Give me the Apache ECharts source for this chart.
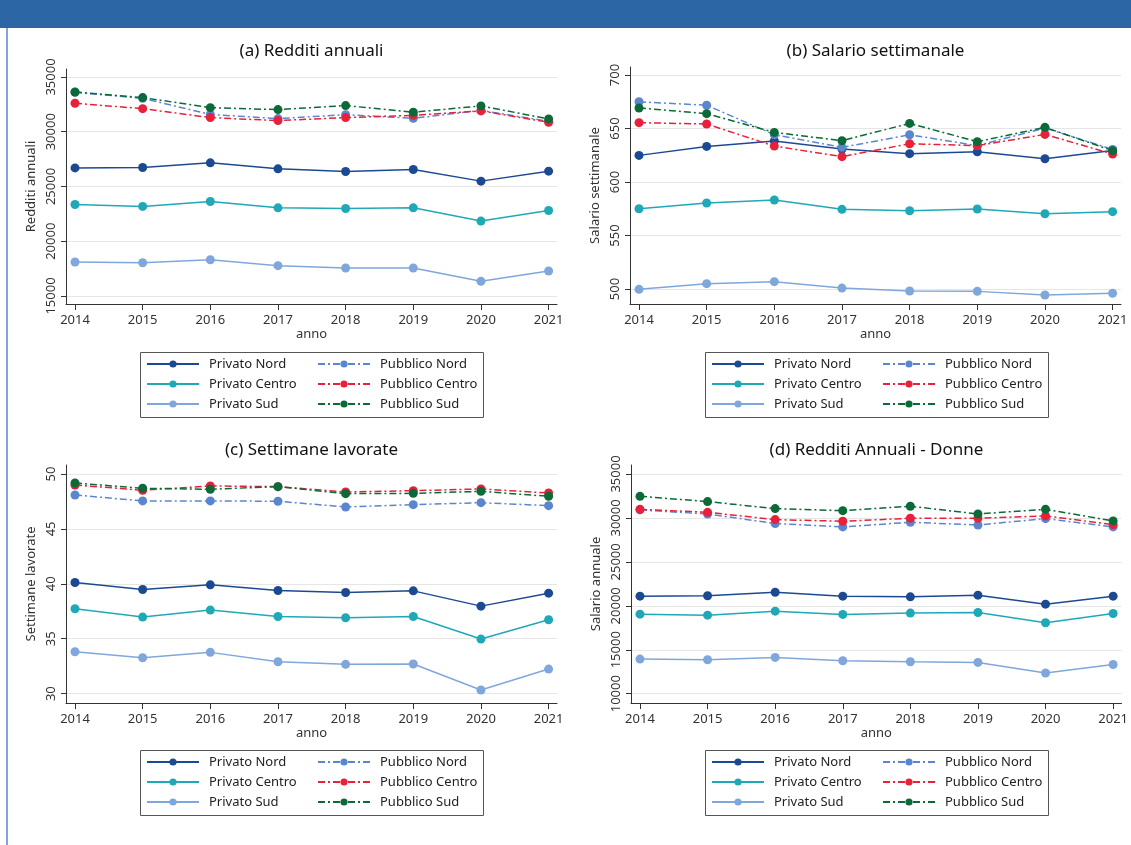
<!DOCTYPE html>
<html>
<head>
<meta charset="utf-8">
<script src="https://cdn.jsdelivr.net/npm/echarts@6/dist/echarts.min.js"></script>
<style>
  html, body { margin: 0; padding: 0; background: #ffffff; }
  #chart { width: 1131px; height: 845px; }
</style>
</head>
<body>
<div id="chart"></div>
<script>
// Years on the horizontal axis of every panel
const years = [2014, 2015, 2016, 2017, 2018, 2019, 2020, 2021];

// Series names (legend order)
const seriesNames = ['Privato Nord', 'Privato Centro', 'Privato Sud', 'Pubblico Nord', 'Pubblico Centro', 'Pubblico Sud'];

// (a) Redditi annuali
const redditiPrivatoNord    = [26700, 26730, 27160, 26610, 26370, 26550, 25490, 26400];
const redditiPrivatoCentro  = [23360, 23180, 23630, 23050, 22990, 23050, 21840, 22810];
const redditiPrivatoSud     = [18100, 18040, 18310, 17770, 17560, 17560, 16340, 17280];
const redditiPubblicoNord   = [33600, 33050, 31580, 31200, 31560, 31230, 31950, 30950];
const redditiPubblicoCentro = [32600, 32110, 31290, 31020, 31290, 31500, 31900, 30870];
const redditiPubblicoSud    = [33630, 33120, 32200, 32020, 32390, 31780, 32360, 31170];

// (b) Salario settimanale
const salarioPrivatoNord    = [624.9, 633.3, 638.3, 630.8, 626.5, 628.3, 621.8, 629.5];
const salarioPrivatoCentro  = [575.0, 580.4, 583.2, 574.5, 573.2, 574.8, 570.4, 572.3];
const salarioPrivatoSud     = [499.7, 505.0, 506.9, 500.9, 498.1, 497.8, 494.4, 496.0];
const salarioPubblicoNord   = [675.0, 671.8, 644.2, 632.4, 644.2, 634.0, 650.5, 630.5];
const salarioPubblicoCentro = [655.5, 654.2, 633.6, 623.7, 635.8, 634.0, 644.5, 626.2];
const salarioPubblicoSud    = [669.2, 663.9, 646.4, 638.6, 654.8, 637.7, 651.1, 629.3];

// (c) Settimane lavorate
const settimanePrivatoNord    = [40.12, 39.48, 39.91, 39.39, 39.21, 39.36, 37.97, 39.15];
const settimanePrivatoCentro  = [37.73, 36.97, 37.61, 37.03, 36.91, 37.03, 34.97, 36.73];
const settimanePrivatoSud     = [33.82, 33.27, 33.76, 32.91, 32.67, 32.70, 30.33, 32.24];
const settimanePubblicoNord   = [48.09, 47.55, 47.55, 47.52, 47.00, 47.21, 47.39, 47.12];
const settimanePubblicoCentro = [49.00, 48.52, 48.91, 48.85, 48.36, 48.48, 48.64, 48.27];
const settimanePubblicoSud    = [49.18, 48.70, 48.61, 48.85, 48.21, 48.24, 48.42, 47.97];

// (d) Redditi annuali - Donne
const donnePrivatoNord    = [21100, 21140, 21550, 21100, 21020, 21210, 20190, 21100];
const donnePrivatoCentro  = [19050, 18940, 19390, 19020, 19170, 19240, 18070, 19130];
const donnePrivatoSud     = [13940, 13860, 14130, 13750, 13640, 13560, 12350, 13330];
const donnePubblicoNord   = [30910, 30450, 29360, 28980, 29510, 29200, 29920, 28980];
const donnePubblicoCentro = [30980, 30640, 29810, 29620, 29960, 29960, 30230, 29240];
const donnePubblicoSud    = [32460, 31860, 31060, 30830, 31330, 30450, 30980, 29660];

// Y tick values per panel
const ticksRedditi   = [15000, 20000, 25000, 30000, 35000];
const ticksSalario   = [500, 550, 600, 650, 700];
const ticksSettimane = [30, 35, 40, 45, 50];
const ticksDonne     = [10000, 15000, 20000, 25000, 30000, 35000];

// Panel titles and y-axis titles
const panelTitles = ['(a) Redditi annuali', '(b) Salario settimanale', '(c) Settimane lavorate', '(d) Redditi Annuali - Donne'];
const yTitles = ['Redditi annuali', 'Salario settimanale', 'Settimane lavorate', 'Salario annuale'];
const xTitle = 'anno';

const panelData = [
  [redditiPrivatoNord, redditiPrivatoCentro, redditiPrivatoSud, redditiPubblicoNord, redditiPubblicoCentro, redditiPubblicoSud],
  [salarioPrivatoNord, salarioPrivatoCentro, salarioPrivatoSud, salarioPubblicoNord, salarioPubblicoCentro, salarioPubblicoSud],
  [settimanePrivatoNord, settimanePrivatoCentro, settimanePrivatoSud, settimanePubblicoNord, settimanePubblicoCentro, settimanePubblicoSud],
  [donnePrivatoNord, donnePrivatoCentro, donnePrivatoSud, donnePubblicoNord, donnePubblicoCentro, donnePubblicoSud]
];
const panelTicks = [ticksRedditi, ticksSalario, ticksSettimane, ticksDonne];

// Layout of the four plot regions (pixels) and the value range each spans
const panels = [
  { left: 66,  top: 69,  width: 491, height: 235, titleTop: 43,  ymin: 14269, ymax: 35730 },
  { left: 630, top: 67,  width: 491, height: 237, titleTop: 43,  ymin: 486,   ymax: 707.5 },
  { left: 66,  top: 465, width: 491, height: 238, titleTop: 442, ymin: 29.15, ymax: 50.82 },
  { left: 631, top: 465, width: 491, height: 238, titleTop: 442, ymin: 8943,  ymax: 36023 }
];
const xMin = 2013.867, xMax = 2021.124;

const colors = ['#1c4a92', '#1fa8b8', '#7fa7dc', '#5a86cf', '#e8203a', '#0b6a37'];
const dashDot = [7, 3, 2, 3];
const lineTypes = ['solid', 'solid', 'solid', dashDot, dashDot, dashDot];

const FONT = 'Noto Sans';
const axisColor = '#333333';

const grids = [], xAxes = [], yAxes = [], titles = [], series = [], legends = [], graphics = [];

panels.forEach((p, i) => {
  grids.push({ left: p.left, top: p.top, width: p.width, height: p.height, containLabel: false });
  titles.push({
    text: panelTitles[i],
    left: p.left + p.width / 2,
    top: p.titleTop,
    textAlign: 'center',
    padding: 0,
    textStyle: { fontFamily: FONT, fontSize: 17, fontWeight: 'normal', color: '#111111' }
  });
  xAxes.push({
    gridIndex: i, type: 'value', min: xMin, max: xMax,
    name: xTitle, nameLocation: 'middle', nameGap: 23,
    nameTextStyle: { fontFamily: FONT, fontSize: 13, color: axisColor },
    axisLine: { show: true, lineStyle: { color: axisColor, width: 1 } },
    axisTick: { show: true, customValues: years, length: 6, lineStyle: { color: axisColor } },
    axisLabel: { customValues: years, formatter: v => String(v), fontFamily: FONT, fontSize: 13, color: axisColor, margin: 10 },
    splitLine: { show: false }
  });
  yAxes.push({
    gridIndex: i, type: 'value', min: p.ymin, max: p.ymax,
    name: yTitles[i], nameLocation: 'middle', nameGap: 28, nameRotate: 90,
    nameTextStyle: { fontFamily: FONT, fontSize: 13, color: axisColor },
    axisLine: { show: true, lineStyle: { color: axisColor, width: 1 } },
    axisTick: { show: true, customValues: panelTicks[i], length: 5, lineStyle: { color: axisColor } },
    axisLabel: { customValues: panelTicks[i], formatter: v => String(v), rotate: 90, fontFamily: FONT, fontSize: 13, color: axisColor, margin: 8 },
    splitLine: { show: true, lineStyle: { color: '#e6e6e6', width: 1 } }
  });
  panelData[i].forEach((vals, s) => {
    series.push({
      name: seriesNames[s], type: 'line', xAxisIndex: i, yAxisIndex: i,
      data: years.map((y, k) => [y, vals[k]]),
      symbol: 'circle', symbolSize: 9, showSymbol: true,
      lineStyle: { color: colors[s], width: 1.5, type: lineTypes[s] },
      itemStyle: { color: colors[s] },
      emphasis: { disabled: true },
      z: 2 + s
    });
  });

  // Legend block under each panel: framed box with two columns
  const boxLeft = i % 2 === 0 ? 140 : 705;
  const boxTop = i < 2 ? 352 : 750;
  graphics.push({
    type: 'rect', left: boxLeft, top: boxTop,
    shape: { width: 343, height: 65 },
    style: { fill: '#ffffff', stroke: '#555555', lineWidth: 1 },
    z: 0, silent: true
  });
  [[0, 1, 2], [3, 4, 5]].forEach((idx, col) => {
    legends.push({
      orient: 'vertical',
      left: boxLeft + (col === 0 ? 6 : 177),
      top: boxTop + 5,
      padding: 0,
      itemWidth: 52, itemHeight: 9, itemGap: 6,
      selectedMode: false,
      data: idx.map(k => seriesNames[k]),
      textStyle: { fontFamily: FONT, fontSize: 13, color: '#222222', lineHeight: 14, padding: [0, 0, 0, 5] }
    });
  });
});

// Page header band and side rule
graphics.push({ type: 'rect', left: 0, top: 0, shape: { width: 1131, height: 28 }, style: { fill: '#2d66a5' }, silent: true, z: 0 });
graphics.push({ type: 'line', shape: { x1: 7, y1: 28, x2: 7, y2: 845 }, style: { stroke: '#7fa6d9', lineWidth: 2 }, silent: true, z: 0 });

const chart = echarts.init(document.getElementById('chart'), null, { renderer: 'canvas' });
chart.setOption({
  animation: false,
  backgroundColor: '#ffffff',
  textStyle: { fontFamily: FONT },
  title: titles,
  grid: grids,
  xAxis: xAxes,
  yAxis: yAxes,
  legend: legends,
  graphic: graphics,
  series: series
});
</script>
</body>
</html>
